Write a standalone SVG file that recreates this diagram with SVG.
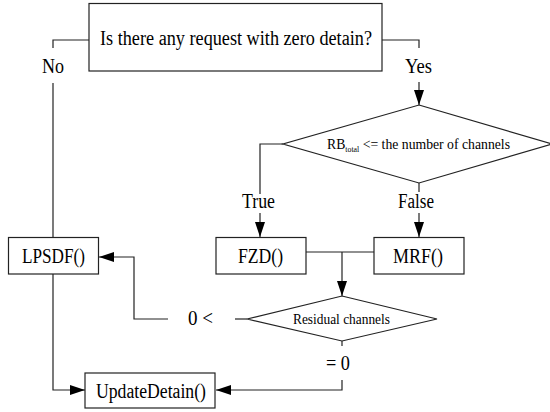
<svg xmlns="http://www.w3.org/2000/svg" width="550" height="412" viewBox="0 0 550 412" font-family="'Liberation Serif', 'Times New Roman', serif">
<style>
.box{fill:#fff;stroke:#222;stroke-width:1.2}
.ln{fill:none;stroke:#222;stroke-width:1.2}
text{font-family:'Liberation Serif','Times New Roman',serif}
.t{fill:#000;font-size:20px;text-anchor:middle}
.s{font-size:14px}
</style>
<defs>
<marker id="ah" markerUnits="userSpaceOnUse" markerWidth="16" markerHeight="11" refX="15" refY="5" orient="auto">
<path d="M0,0 L15,5 L0,10 Z" fill="#000"/>
</marker>
</defs>
<rect width="550" height="412" fill="#fff"/>
<g id="connectors">
<path class="ln" d="M89,40 H53 V48"/>
<path class="ln" d="M53,83 V237"/>
<path class="ln" d="M382,40 H419 V48"/>
<path class="ln" d="M419,82 V105" marker-end="url(#ah)"/>
<path class="ln" d="M283,144 H260 V194"/>
<path class="ln" d="M260,213 V237" marker-end="url(#ah)"/>
<path class="ln" d="M419,183 V192"/>
<path class="ln" d="M419,213 V237" marker-end="url(#ah)"/>
<path class="ln" d="M306,252 H374"/>
<path class="ln" d="M342,252 V296" marker-end="url(#ah)"/>
<path class="ln" d="M247,319 H235"/>
<path class="ln" d="M168,319 H134 V257 H99" marker-end="url(#ah)"/>
<path class="ln" d="M53,274 V390 H85" marker-end="url(#ah)"/>
<path class="ln" d="M342,341 V346"/>
<path class="ln" d="M342,380 V390 H216" marker-end="url(#ah)"/>
<text class="t" x="53" y="72.5" textLength="22" lengthAdjust="spacingAndGlyphs">No</text>
<text class="t" x="418.5" y="72.5" textLength="27" lengthAdjust="spacingAndGlyphs">Yes</text>
<text class="t" x="258.5" y="208" textLength="33" lengthAdjust="spacingAndGlyphs">True</text>
<text class="t" x="416" y="208" textLength="36" lengthAdjust="spacingAndGlyphs">False</text>
<text class="t" x="200.5" y="325" textLength="25" lengthAdjust="spacingAndGlyphs">0 &lt;</text>
<text class="t" x="338" y="370" textLength="24" lengthAdjust="spacingAndGlyphs">= 0</text>
</g>
<g id="q1">
<rect class="box" x="89" y="3.5" width="293" height="67.5"/>
<text class="t" x="236" y="45" textLength="272" lengthAdjust="spacingAndGlyphs">Is there any request with zero detain?</text>
</g>
<g id="q2">
<polygon class="box" points="419,105 552,144 419,183 283,144"/>
<text class="t" x="327" y="149" style="text-anchor:start;font-size:14px" textLength="183" lengthAdjust="spacingAndGlyphs">RB<tspan font-size="8" dy="3">total</tspan><tspan dy="-3"> &lt;= the number of channels</tspan></text>
</g>
<g id="lpsdf">
<rect class="box" x="8.5" y="237.5" width="90" height="36.5"/>
<text class="t" x="53.5" y="263" textLength="63" lengthAdjust="spacingAndGlyphs">LPSDF()</text>
</g>
<g id="fzd">
<rect class="box" x="216" y="237.5" width="90" height="36.5"/>
<text class="t" x="260.5" y="263" textLength="45" lengthAdjust="spacingAndGlyphs">FZD()</text>
</g>
<g id="mrf">
<rect class="box" x="374" y="237.5" width="90" height="36.5"/>
<text class="t" x="418" y="263" textLength="50" lengthAdjust="spacingAndGlyphs">MRF()</text>
</g>
<g id="q3">
<polygon class="box" points="342,296 437,319 342,341 247,319"/>
<text class="t s" x="341.5" y="323.5" textLength="97" lengthAdjust="spacingAndGlyphs">Residual channels</text>
</g>
<g id="update">
<rect class="box" x="85" y="373" width="130" height="35"/>
<text class="t" x="151" y="397.5" textLength="110" lengthAdjust="spacingAndGlyphs">UpdateDetain()</text>
</g>
</svg>
